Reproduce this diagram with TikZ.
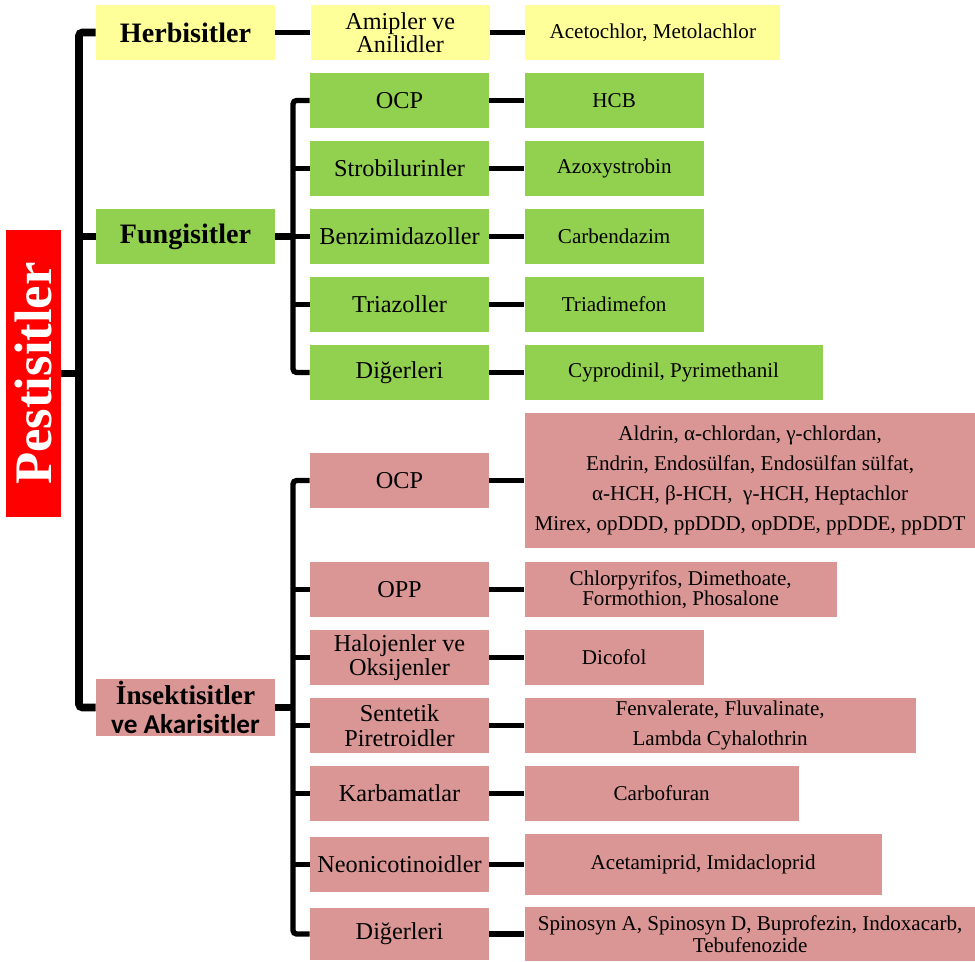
\documentclass[tikz,border=0pt]{standalone}
\usepackage{fontspec}
\setmainfont{Liberation Serif}
\newfontfamily\carlito{Carlito}
\usepackage{graphicx}
\usetikzlibrary{positioning}
\definecolor{cyellow}{HTML}{FFFF99}
\definecolor{cgreen}{HTML}{92D050}
\definecolor{cpink}{HTML}{D99694}
\definecolor{cred}{HTML}{FF0000}

\begin{document}
\begin{tikzpicture}[
  x=0.02cm,y=-0.02cm,
  head/.style={minimum width=3.58cm,minimum height=1.1cm,inner sep=1pt,align=center,
               font=\fontsize{16}{17}\selectfont\bfseries},
  group/.style={minimum width=3.58cm,minimum height=1.1cm,inner sep=1pt,align=center,
                font=\fontsize{13.8}{14}\selectfont},
  item/.style={right=0.7cm of #1,minimum width=3.58cm,minimum height=1.1cm,inner sep=1pt,
               align=center,font=\fontsize{12}{12}\selectfont},
  trunk/.style={line width=4.4pt,rounded corners=2pt},
  twig/.style={line width=3.2pt},
  fork/.style={line width=3pt,rounded corners=2pt}]
  \useasboundingbox (0,0) rectangle (975,962);
  % root
  \node[fill=cred,minimum width=1.1cm,minimum height=5.74cm,inner sep=0pt] (pest) at (33.5,373.5)
    {\rotatebox{90}{\fontsize{30}{30}\selectfont\bfseries\color{white}Pestisitler}};
  % main groups
  \node[head,fill=cyellow] (herb) at (185.5,32.5) {Herbisitler};
  \node[head,fill=cgreen] (fun) at (185.5,236.5) {Fungisitler};
  \node[head,fill=cpink,font=\fontsize{15.5}{17}\selectfont\bfseries] (ins) at (185.5,707.5)
    {İnsektisitler\\{\carlito ve Akarisitler}};
  % herbisitler
  \node[group,fill=cyellow,font=\fontsize{13.8}{13}\selectfont,right=0.7cm of herb] (amip) {Amipler ve\\Anilidler};
  \node[item=amip,fill=cyellow,minimum width=5.1cm] (aceto) {Acetochlor, Metolachlor};
  % fungisitler
  \node[group,fill=cgreen] (focp) at (399.5,100.5) {OCP};
  \node[group,fill=cgreen] (fstr) at (399.5,168.5) {Strobilurinler};
  \node[group,fill=cgreen] (fben) at (399.5,236.5) {Benzimidazoller};
  \node[group,fill=cgreen] (ftri) at (399.5,304.5) {Triazoller};
  \node[group,fill=cgreen] (fdig) at (399.5,372.5) {Diğerleri};
  \node[item=focp,fill=cgreen] (hcb) {HCB};
  \node[item=fstr,fill=cgreen] (azox) {Azoxystrobin};
  \node[item=fben,fill=cgreen] (carb) {Carbendazim};
  \node[item=ftri,fill=cgreen] (tria) {Triadimefon};
  \node[item=fdig,fill=cgreen,minimum width=5.96cm] (cypr) {Cyprodinil, Pyrimethanil};
  % insektisitler
  \node[group,fill=cpink] (iocp) at (399.5,480.5) {OCP};
  \node[group,fill=cpink] (iopp) at (399.5,589.5) {OPP};
  \node[group,fill=cpink] (ihal) at (399.5,657.5) {Halojenler ve\\Oksijenler};
  \node[group,fill=cpink] (isen) at (399.5,725.5) {Sentetik\\Piretroidler};
  \node[group,fill=cpink] (ikar) at (399.5,793.5) {Karbamatlar};
  \node[group,fill=cpink] (ineo) at (399.5,864.5) {Neonicotinoidler};
  \node[group,fill=cpink,minimum height=1.04cm] (idig) at (399.5,934) {Diğerleri};
  \node[item=iocp,fill=cpink,minimum width=9.02cm,minimum height=2.7cm,font=\fontsize{12}{17}\selectfont] (ocpl)
    {Aldrin, α-chlordan, γ-chlordan,\\Endrin, Endosülfan, Endosülfan sülfat,\\α-HCH, β-HCH,\ \ γ-HCH, Heptachlor\\Mirex, opDDD, ppDDD, opDDE, ppDDE, ppDDT};
  \node[item=iopp,fill=cpink,minimum width=6.24cm,font=\fontsize{12}{11.5}\selectfont] (oppl)
    {Chlorpyrifos, Dimethoate,\\Formothion, Phosalone};
  \node[item=ihal,fill=cpink] (dico) {Dicofol};
  \node[item=isen,fill=cpink,minimum width=7.82cm,font=\fontsize{12}{17}\selectfont] (fenv)
    {Fenvalerate, Fluvalinate,\\Lambda Cyhalothrin};
  \node[item=ikar,fill=cpink,minimum width=5.48cm] (carbo) {Carbofuran};
  \node[item=ineo,fill=cpink,minimum width=7.14cm,minimum height=1.22cm] (aceta) {Acetamiprid, Imidacloprid};
  \node[item=idig,fill=cpink,minimum width=9.02cm,minimum height=1.08cm,font=\fontsize{12}{12.3}\selectfont] (spin)
    {Spinosyn A, Spinosyn D, Buprofezin, Indoxacarb,\\Tebufenozide};
  % trunk
  \coordinate (spine) at (79,373.5);
  \draw[trunk] (pest.east) -- (spine);
  \draw[trunk] (herb.west) -| (spine) |- (ins.west);
  \draw[trunk] (spine |- fun.west) -- (fun.west);
  % forks
  \coordinate (ffork) at (293,236.5);
  \coordinate (ifork) at (293,707.5);
  \draw[line width=3.8pt] (fun.east) -- (ffork);
  \draw[line width=3.8pt] (ins.east) -- (ifork);
  \draw[fork] (focp.west) -| (ffork) |- (fdig.west);
  \draw[fork] (iocp.west) -| (ifork) |- (idig.west);
  \foreach \g in {fstr,fben,ftri,iopp,ihal,isen,ikar,ineo}
    \draw[fork] (ffork |- \g.west) -- (\g.west);
  % twigs
  \draw[twig] (herb) -- (amip);
  \foreach \a/\b in {amip/aceto,focp/hcb,fstr/azox,fben/carb,ftri/tria,fdig/cypr,
                     iocp/ocpl,iopp/oppl,ihal/dico,isen/fenv,ikar/carbo,ineo/aceta,idig/spin}
    \draw[twig] (\a.east) -- (\b.west);
\end{tikzpicture}
\end{document}
